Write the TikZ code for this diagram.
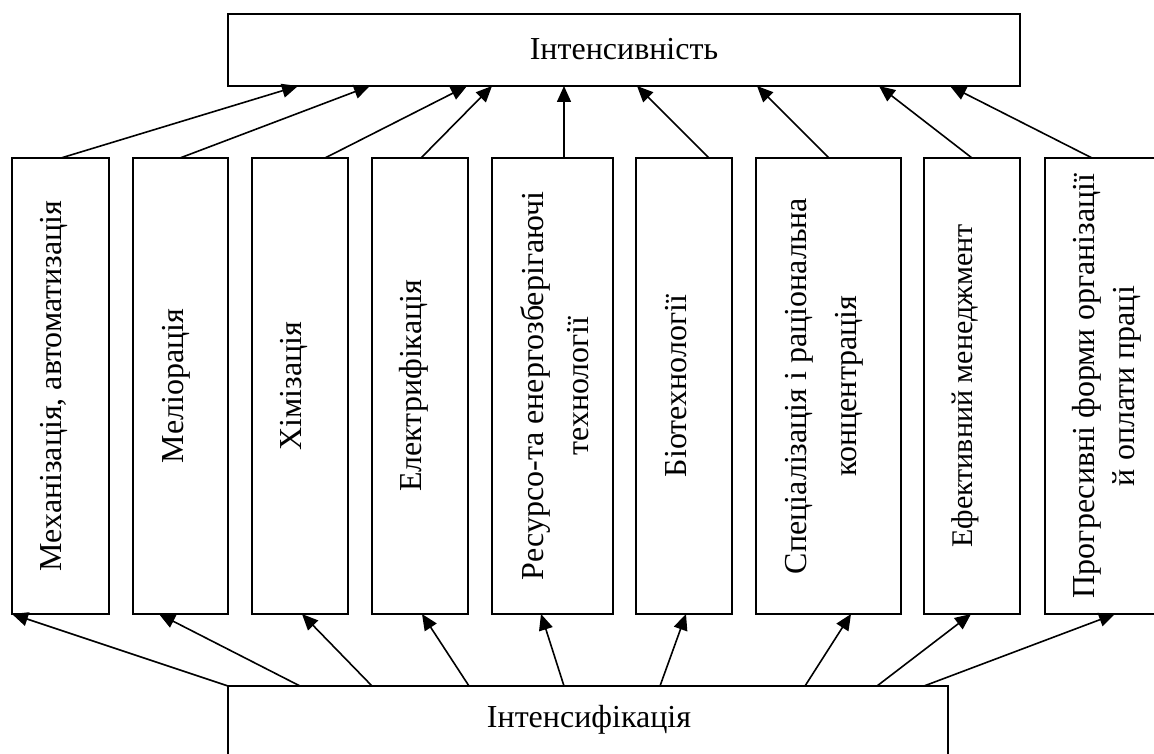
\documentclass[tikz,border=0pt]{standalone}
\usepackage{fontspec}
\setmainfont{Liberation Serif}
\usetikzlibrary{arrows.meta,calc}
\begin{document}
\begin{tikzpicture}[x=1pt,y=-1pt,
  box/.style={draw=black,line width=1.7pt,rectangle,inner sep=0pt,outer sep=0pt,fill=none},
  vbox/.style={box,minimum width=#1,minimum height=456pt},
  lbl/.style={inner sep=0pt,anchor=base,font=\fontsize{32}{38}\selectfont},
  vlbl/.style={lbl,rotate=90},
  arr/.style={line width=1.6pt,-{Triangle[length=16pt,width=14pt]}}]
\useasboundingbox (0,0) rectangle (1154,754);
% boxes
\node[box,minimum width=792pt,minimum height=72pt] (top) at (624,50) {};
\node[box,minimum width=720pt,minimum height=84pt] (bot) at (588,728) {};
\node[vbox=97pt]  (b1) at (60.5,386) {};
\node[vbox=95pt]  (b2) at (180.5,386) {};
\node[vbox=96pt]  (b3) at (300,386) {};
\node[vbox=96pt]  (b4) at (420,386) {};
\node[vbox=121pt] (b5) at (552.5,386) {};
\node[vbox=96pt]  (b6) at (684,386) {};
\node[vbox=145pt] (b7) at (828.5,386) {};
\node[vbox=96pt]  (b8) at (972,386) {};
\node[vbox=120pt] (b9) at (1105,386) {};
% labels
\node[lbl] (ttop) at (624,60) {Інтенсивність};
\node[lbl] (tbot) at (589,727) {Інтенсифікація};
\node[vlbl] (t1) at (61,386) {Механізація, автоматизація};
\node[vlbl] (t2) at (183,386) {Меліорація};
\node[vlbl] (t3) at (301,386) {Хімізація};
\node[vlbl] (t4) at (421,386) {Електрифікація};
\node[vlbl] (t5a) at (543,386) {Ресурсо-та енергозберігаючі};
\node[vlbl] (t5b) at (588,386) {технології};
\node[vlbl] (t6) at (686,386) {Біотехнології};
\node[vlbl] (t7a) at (806,386) {Спеціалізація і раціональна};
\node[vlbl] (t7b) at (856,386) {концентрація};
\node[vlbl,font=\fontsize{30}{36}\selectfont] (t8) at (972,386) {Ефективний менеджмент};
\node[vlbl] (t9a) at (1094,386) {Прогресивні форми організації};
\node[vlbl] (t9b) at (1134,386) {й оплати праці};
% arrows up to top box
\draw[arr] ($(b1.north west)+(49,0)$) -- ($(top.south west)+(70,0)$);
\draw[arr] ($(b2.north west)+(47,0)$) -- ($(top.south west)+(142,0)$);
\draw[arr] ($(b3.north west)+(73,0)$) -- ($(top.south west)+(239,0)$);
\draw[arr] ($(b4.north west)+(49,0)$) -- ($(top.south west)+(264,0)$);
\draw[arr] ($(b5.north west)+(72,0)$) -- ($(top.south west)+(336,0)$);
\draw[arr] ($(b6.north west)+(73,0)$) -- ($(top.south west)+(409,0)$);
\draw[arr] ($(b7.north west)+(73,0)$) -- ($(top.south west)+(529,0)$);
\draw[arr] ($(b8.north west)+(48,0)$) -- ($(top.south west)+(651,0)$);
\draw[arr] ($(b9.north west)+(47,0)$) -- ($(top.south west)+(722,0)$);
% arrows from bottom box
\draw[arr] ($(bot.north west)+(0,0)$) -- ($(b1.south west)+(0,0)$);
\draw[arr] ($(bot.north west)+(72,0)$) -- ($(b2.south west)+(26,0)$);
\draw[arr] ($(bot.north west)+(144,0)$) -- ($(b3.south west)+(50,0)$);
\draw[arr] ($(bot.north west)+(241,0)$) -- ($(b4.south west)+(50,0)$);
\draw[arr] ($(bot.north west)+(336,0)$) -- ($(b5.south west)+(49,0)$);
\draw[arr] ($(bot.north west)+(432,0)$) -- ($(b6.south west)+(50,0)$);
\draw[arr] ($(bot.north west)+(577,0)$) -- ($(b7.south west)+(95,0)$);
\draw[arr] ($(bot.north west)+(649,0)$) -- ($(b8.south west)+(47,0)$);
\draw[arr] ($(bot.north west)+(696,0)$) -- ($(b9.south west)+(70,0)$);
\end{tikzpicture}
\end{document}
